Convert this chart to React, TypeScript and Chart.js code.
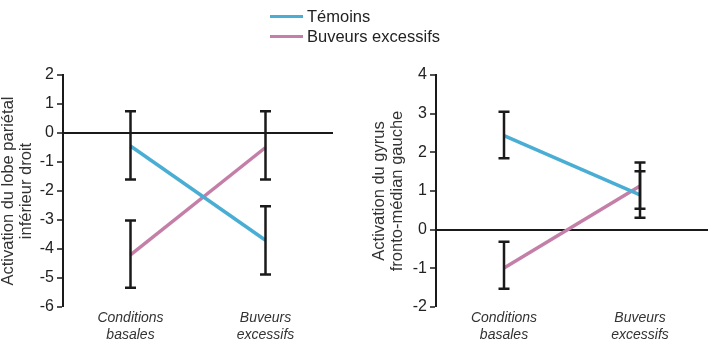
import React, { useEffect, useRef } from "react";
import { Chart, registerables } from "chart.js";

Chart.register(...registerables);

const categories: string[][] = [["Conditions", "basales"], ["Buveurs", "excessifs"]];
const seriesNames = ["Témoins", "Buveurs excessifs"];
const colors = ["#4aaed4", "#c47fa8"];

// Left panel: lobe pariétal inférieur droit
const leftTemoins = [-0.45, -3.7];
const leftTemoinsHigh = [0.75, -2.53];
const leftTemoinsLow = [-1.6, -4.88];
const leftBuveurs = [-4.2, -0.5];
const leftBuveursHigh = [-3.02, 0.75];
const leftBuveursLow = [-5.34, -1.6];
const leftTitle = ["Activation du lobe pariétal", "inférieur droit"];
const leftRange = [-6, 2];

// Right panel: gyrus fronto-médian gauche
const rightTemoins = [2.43, 0.9];
const rightTemoinsHigh = [3.05, 1.51];
const rightTemoinsLow = [1.85, 0.31];
const rightBuveurs = [-0.99, 1.13];
const rightBuveursHigh = [-0.31, 1.74];
const rightBuveursLow = [-1.53, 0.54];
const rightTitle = ["Activation du gyrus", "fronto-médian gauche"];
const rightRange = [-2, 4];

const FONT = "'Liberation Sans', Arial, sans-serif";

const errorBarPlugin = {
  id: "errorBars",
  afterDatasetsDraw(chart: any) {
    const ctx = chart.ctx;
    const yScale = chart.scales.y;
    ctx.save();
    ctx.strokeStyle = "#1a1a1a";
    ctx.lineWidth = 2.5;
    ctx.lineCap = "butt";
    chart.data.datasets.forEach((ds: any, di: number) => {
      const meta = chart.getDatasetMeta(di);
      meta.data.forEach((pt: any, i: number) => {
        const x = pt.x;
        const yh = yScale.getPixelForValue(ds.errHigh[i]);
        const yl = yScale.getPixelForValue(ds.errLow[i]);
        const cw = 5.5;
        ctx.beginPath();
        ctx.moveTo(x, yh);
        ctx.lineTo(x, yl);
        ctx.moveTo(x - cw, yh);
        ctx.lineTo(x + cw, yh);
        ctx.moveTo(x - cw, yl);
        ctx.lineTo(x + cw, yl);
        ctx.stroke();
      });
    });
    ctx.restore();
  },
};

function makeConfig(
  tem: number[], temH: number[], temL: number[],
  buv: number[], buvH: number[], buvL: number[],
  title: string[], range: number[], yWidth: number, padRight: number
): any {
  return {
    type: "line",
    data: {
      labels: categories,
      datasets: [
        { label: seriesNames[0], data: tem, errHigh: temH, errLow: temL, borderColor: colors[0], backgroundColor: colors[0], borderWidth: 3.5, pointRadius: 0, tension: 0, fill: false },
        { label: seriesNames[1], data: buv, errHigh: buvH, errLow: buvL, borderColor: colors[1], backgroundColor: colors[1], borderWidth: 3.5, pointRadius: 0, tension: 0, fill: false },
      ],
    },
    options: {
      responsive: false,
      animation: false,
      events: [],
      layout: { padding: { top: 75, right: padRight, bottom: 0, left: 0 } },
      plugins: { legend: { display: false }, tooltip: { enabled: false } },
      scales: {
        x: {
          type: "category",
          offset: true,
          border: { display: false },
          grid: { display: false, drawTicks: false },
          ticks: {
            color: "#333",
            font: { family: FONT, size: 14, style: "italic", lineHeight: 1.2 },
            padding: 3,
            autoSkip: false,
            maxRotation: 0,
          },
          afterFit: (s: any) => { s.height = 48; },
        },
        y: {
          min: range[0],
          max: range[1],
          border: { display: true, color: "#1a1a1a", width: 2 },
          grid: {
            drawOnChartArea: true,
            color: (c: any) => (c.tick && c.tick.value === 0 ? "#1a1a1a" : "rgba(0,0,0,0)"),
            lineWidth: (c: any) => (c.tick && c.tick.value === 0 ? 2 : 0),
            tickColor: "#1a1a1a",
            tickWidth: 1.5,
            tickLength: 6,
            drawTicks: true,
          },
          ticks: {
            stepSize: 1,
            color: "#222",
            padding: 3,
            font: { family: FONT, size: 16 },
          },
          title: {
            display: true,
            text: title,
            color: "#333",
            padding: { top: 0, bottom: 0 },
            font: { family: FONT, size: 16.5, lineHeight: 1.08 },
          },
          afterFit: (s: any) => { s.width = yWidth; },
        },
      },
    },
    plugins: [errorBarPlugin],
  };
}

export default function App() {
  const leftRef = useRef<HTMLCanvasElement>(null);
  const rightRef = useRef<HTMLCanvasElement>(null);

  useEffect(() => {
    const c1 = new Chart(leftRef.current as HTMLCanvasElement, makeConfig(
      leftTemoins, leftTemoinsHigh, leftTemoinsLow,
      leftBuveurs, leftBuveursHigh, leftBuveursLow,
      leftTitle, leftRange, 63, 22));
    const c2 = new Chart(rightRef.current as HTMLCanvasElement, makeConfig(
      rightTemoins, rightTemoinsHigh, rightTemoinsLow,
      rightBuveurs, rightBuveursHigh, rightBuveursLow,
      rightTitle, rightRange, 65, 2));
    return () => { c1.destroy(); c2.destroy(); };
  }, []);

  const legendItem = (i: number, top: number) => (
    <div style={{ position: "absolute", left: 270, top, height: 20, display: "flex", alignItems: "center" }}>
      <div style={{ width: 33, height: 3, background: colors[i], marginRight: 4 }} />
      <span style={{ fontFamily: FONT, fontSize: 16.5, color: "#222", lineHeight: "20px" }}>{seriesNames[i]}</span>
    </div>
  );

  return (
    <div style={{ position: "fixed", left: 0, top: 0, width: 710, height: 355, background: "#fff", overflow: "hidden" }}>
      <canvas ref={leftRef} width={355} height={355} style={{ position: "absolute", left: 0, top: 0, width: 355, height: 355 }} />
      <canvas ref={rightRef} width={339} height={355} style={{ position: "absolute", left: 371, top: 0, width: 339, height: 355 }} />
      {legendItem(0, 6)}
      {legendItem(1, 26)}
    </div>
  );
}
